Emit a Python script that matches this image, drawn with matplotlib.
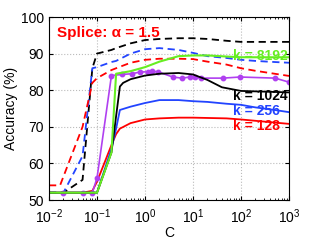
import numpy as np
import matplotlib
matplotlib.use('Agg')
import matplotlib.pyplot as plt
from matplotlib.ticker import LogLocator, NullFormatter

plt.rcParams['font.family'] = ['Liberation Sans', 'DejaVu Sans']

# dashed curves (upper group)
c_bd = [0.01, 0.02, 0.05, 0.08, 0.1, 0.2, 0.25, 0.5, 1, 2, 5, 10, 20, 50, 100, 200, 500, 1000]
acc_bd = [52, 52, 55.5, 86, 90, 91, 91.5, 92.8, 93.7, 94, 94.2, 94.2, 94, 93.5, 93.2, 93.2, 93.2, 93.2]

c_bld = [0.01, 0.02, 0.05, 0.08, 0.1, 0.2, 0.25, 0.5, 1, 2, 5, 10, 20, 50, 100, 200, 500, 1000]
acc_bld = [52, 52, 62, 86, 86.3, 87.7, 88, 90, 91.2, 91.5, 91, 90.2, 89.3, 88.8, 88.3, 88, 87.7, 87.5]

c_rd = [0.01, 0.017, 0.05, 0.08, 0.1, 0.2, 0.25, 0.5, 1, 2, 5, 10, 20, 50, 100, 200, 500, 1000]
acc_rd = [54, 54, 70, 82, 83.3, 85.5, 86, 87.5, 88.3, 88.6, 88.6, 88.5, 87.8, 87, 86, 85.3, 84.5, 83.9]

# solid curves
c_g = [0.01, 0.02, 0.05, 0.1, 0.2, 0.25, 0.5, 1, 2, 5, 10, 20, 50, 100, 1000]
acc_g = [52, 52, 52, 52, 63, 84.5, 85.2, 86.3, 87.8, 89.3, 89.5, 89.5, 89.2, 89, 89]

c_k = [0.01, 0.02, 0.05, 0.1, 0.2, 0.3, 0.35, 0.5, 1, 2, 5, 10, 20, 40, 100, 1000]
acc_k = [52, 52, 52, 52, 63, 81, 82, 83, 84, 84.5, 84.7, 84.3, 82.8, 80.8, 79.8, 79.4]

c_b = [0.01, 0.02, 0.05, 0.1, 0.2, 0.25, 0.3, 0.5, 1, 2, 5, 10, 20, 50, 100, 200, 500, 1000]
acc_b = [52, 52, 52, 52, 64, 69.5, 74.6, 75.5, 76.5, 77.3, 77.3, 77, 76.8, 76.3, 76, 75.3, 74.6, 74]

c_r = [0.01, 0.02, 0.05, 0.08, 0.1, 0.2, 0.25, 0.3, 0.5, 1, 2, 5, 10, 50, 100, 1000]
acc_r = [52, 52, 52, 52.5, 55, 65, 68, 69.5, 71, 72, 72.3, 72.5, 72.5, 72.3, 72, 70.8]

c_p = [0.02, 0.05, 0.08, 0.1, 0.2, 0.33, 0.54, 0.8, 1.15, 1.4, 1.9, 3.8, 5.9, 8.7, 11, 15, 42, 96, 513, 1000]
acc_p = [52, 52, 52, 56, 84, 84.3, 84.5, 85, 85, 85.2, 85, 83.6, 83.3, 83.6, 83.5, 83.3, 83.3, 83.6, 83.3, 82.2]

labels = ['k = 8192', 'k = 1024', 'k = 256', 'k = 128']
label_y = [89.3, 78.4, 74.3, 70.2]

red = '#ff0000'
blue = '#2244ff'
green = '#66ee22'
purple = '#b040f0'

fig = plt.figure(figsize=(3.19, 2.4), dpi=100)
ax = fig.add_axes([49 / 319, 40 / 240, 240 / 319, 183 / 240])

dash = (0, (4, 2.5))
ax.plot(c_bd, acc_bd, color='k', lw=1.3, linestyle=dash)
ax.plot(c_bld, acc_bld, color=blue, lw=1.3, linestyle=dash)
ax.plot(c_rd, acc_rd, color=red, lw=1.3, linestyle=dash)
ax.plot(c_r, acc_r, color=red, lw=1.3)
ax.plot(c_b, acc_b, color=blue, lw=1.3)
ax.plot(c_p, acc_p, color=purple, lw=1.2, marker='o', markersize=3.2)
ax.plot(c_k, acc_k, color='k', lw=1.3)
ax.plot(c_g, acc_g, color=green, lw=1.5)

ax.set_xscale('log')
ax.set_xlim(1e-2, 1e3)
ax.set_ylim(50, 100)
ax.set_yticks([50, 60, 70, 80, 90, 100])
ax.xaxis.set_minor_locator(LogLocator(base=10, subs=np.arange(2, 10), numticks=20))
ax.xaxis.set_minor_formatter(NullFormatter())
ax.grid(True, which='major', linestyle=':', color='#bbbbbb', lw=0.8)
ax.tick_params(direction='in', which='both', top=True, right=True, labelsize=10)
ax.tick_params(which='major', length=3)
ax.tick_params(which='minor', length=1.5)
ax.tick_params(axis='x', pad=5)
for s in ax.spines.values():
    s.set_linewidth(0.8)

ax.set_xlabel('C', fontsize=10, labelpad=0)
ax.set_ylabel('Accuracy (%)', fontsize=10, labelpad=2)

ax.text(0.0147, 95.6, 'Splice: \u03b1 = 1.5', color=red, fontsize=11,
        fontweight='bold', va='center', ha='left')
for lab, y, col in zip(labels, label_y, [green, 'k', blue, red]):
    ax.text(68, y, lab, color=col, fontsize=10, fontweight='bold', va='center', ha='left')

fig.savefig('out.png', dpi=100)
